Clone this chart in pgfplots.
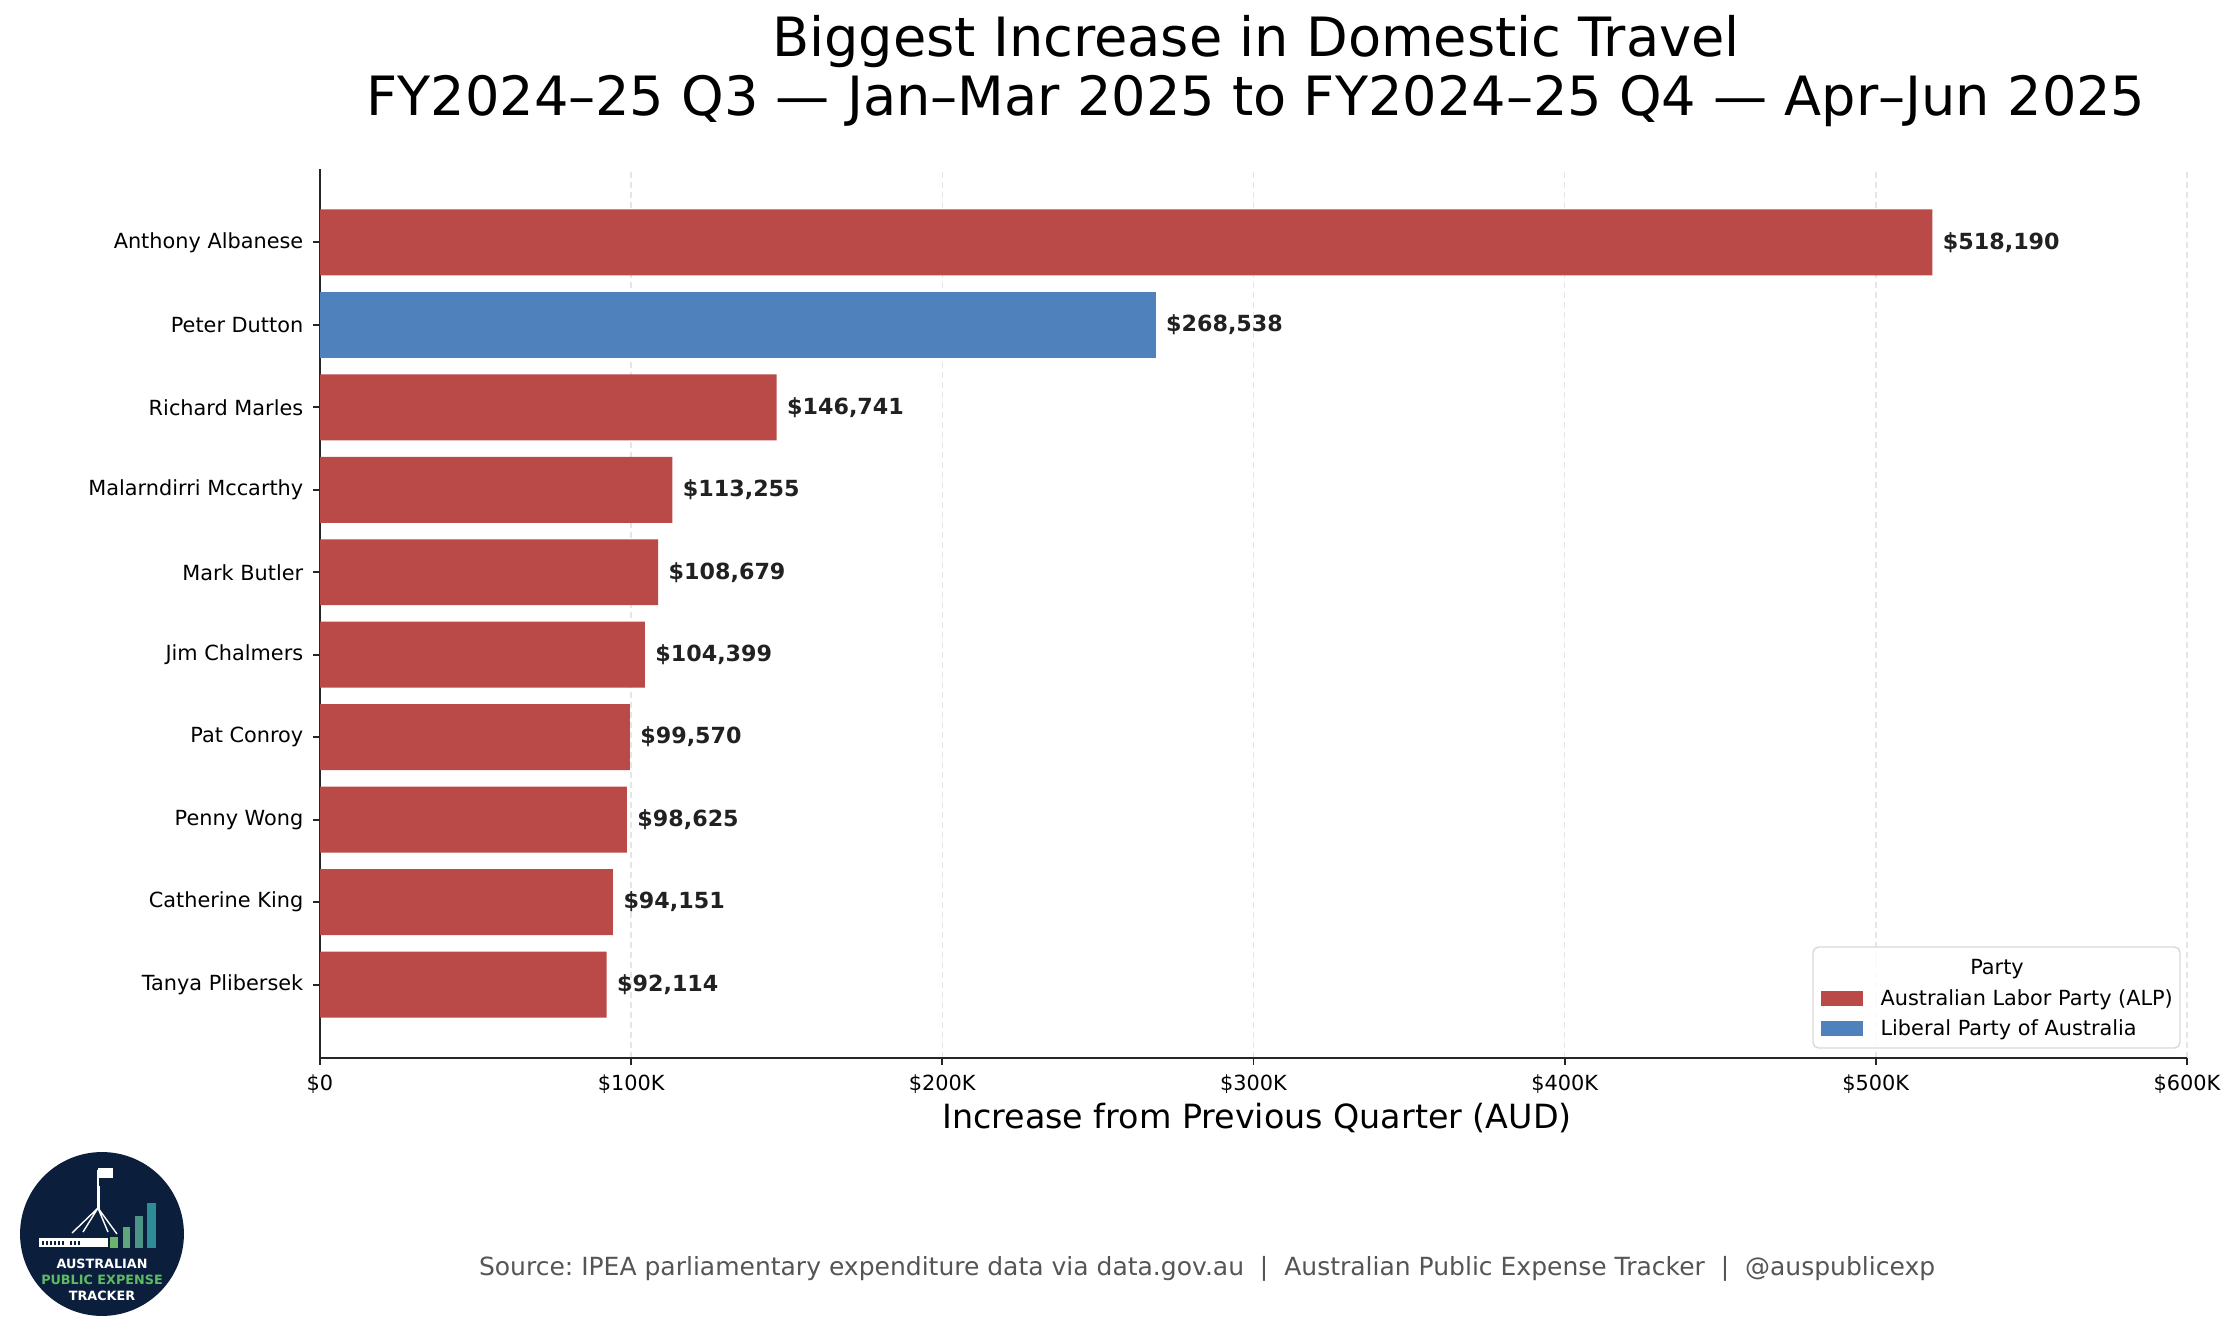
\documentclass[border=0pt]{standalone}
\usepackage{pgfplots}
\pgfplotsset{compat=1.18}
\usepackage{fontspec}
\setmainfont{DejaVu Sans}
\frenchspacing
\definecolor{alp}{HTML}{B94A48}
\definecolor{lib}{HTML}{4F81BD}
\definecolor{spine}{HTML}{262626}
\definecolor{navy}{HTML}{0B1F3D}
\definecolor{srcgray}{HTML}{555555}
\definecolor{lg1}{HTML}{6CB36C}
\definecolor{lg2}{HTML}{5FA77A}
\definecolor{lg3}{HTML}{4C9485}
\definecolor{lg4}{HTML}{2E8C96}
\definecolor{logogreen}{HTML}{5DBB63}
\begin{document}
\begin{tikzpicture}[x=1pt,y=1pt]
\useasboundingbox (0,0) rectangle (804.6,481.32);
\begin{axis}[
  at={(115.2pt,100.44pt)}, anchor=south west,
  scale only axis, width=672.1pt, height=320.04pt,
  xmin=0, xmax=600000, ymin=-0.89, ymax=9.89,
  axis lines*=left,
  axis line style={-, draw=spine, line width=0.7pt},
  tick style={draw=spine, line width=0.7pt},
  major tick length=2.5pt, tick align=outside,
  xtick={0,100000,200000,300000,400000,500000,600000},
  scaled x ticks=false,
  xticklabels={\$0,\$100K,\$200K,\$300K,\$400K,\$500K,\$600K},
  ytick={0,1,2,3,4,5,6,7,8,9},
  yticklabels={Tanya Plibersek,Catherine King,Penny Wong,Pat Conroy,Jim Chalmers,Mark Butler,Malarndirri Mccarthy,Richard Marles,Peter Dutton,Anthony Albanese},
  ticklabel style={font=\fontsize{7.5}{9}\selectfont},
  xmajorgrids,
  grid style={gray!20, dash pattern=on 2.2pt off 1.4pt, line width=0.5pt},
  point meta=x,
  nodes near coords={\$\pgfmathprintnumber{\pgfplotspointmeta}},
  nodes near coords style={font=\fontsize{8}{9}\selectfont\bfseries, anchor=west, inner sep=0pt, xshift=3.6pt, text=black!87},
  /pgf/number format/.cd, fixed, precision=0, 1000 sep={,}, assume math mode=true,
]
\addplot[xbar, bar width=0.8, bar shift=0pt, fill=alp, draw=none]
  coordinates {(518190,9) (146741,7) (113255,6) (108679,5) (104399,4) (99570,3) (98625,2) (94151,1) (92114,0)};
\addplot[xbar, bar width=0.8, bar shift=0pt, fill=lib, draw=none]
  coordinates {(268538,8)};
\end{axis}
\begin{scope}[shift={(0pt,481.32pt)}, x=0.36pt, y=-0.36pt]
  % titles
  \node[anchor=base, inner sep=0pt, font=\fontsize{19.5}{23}\selectfont] at (1256,57) {Biggest Increase in Domestic Travel};
  \node[anchor=base, inner sep=0pt, font=\fontsize{19.5}{23}\selectfont] at (1256,116) {FY2024–25 Q3 — Jan–Mar 2025 to FY2024–25 Q4 — Apr–Jun 2025};
  % x label
  \node[anchor=base, inner sep=0pt, font=\fontsize{12}{14}\selectfont] at (1257,1129) {Increase from Previous Quarter (AUD)};
  % source
  \node[anchor=base, inner sep=0pt, text=srcgray, font=\fontsize{9}{10}\selectfont] at (1207,1275) {Source: IPEA parliamentary expenditure data via data.gov.au\ \ |\ \ Australian Public Expense Tracker\ \ |\ \ @auspublicexp};
  % legend
  \draw[rounded corners=2pt, draw=gray!30, fill=white, fill opacity=0.85, line width=0.5pt] (1813,947) rectangle (2180,1048);
  \node[anchor=base, inner sep=0pt, font=\fontsize{7.5}{9}\selectfont] at (1997,975) {Party};
  \fill[alp] (1821,991) rectangle (1863,1006);
  \node[anchor=base west, inner sep=0pt, font=\fontsize{7.5}{9}\selectfont] at (1880,1006) {Australian Labor Party (ALP)};
  \fill[lib] (1821,1021) rectangle (1863,1036);
  \node[anchor=base west, inner sep=0pt, font=\fontsize{7.5}{9}\selectfont] at (1880,1036) {Liberal Party of Australia};
  % logo
  \fill[navy] (102,1234) circle[radius=29.5pt];
  \fill[lg1] (110,1237) rectangle (118,1248);
  \fill[lg2] (123,1227) rectangle (130,1248);
  \fill[lg3] (135,1216) rectangle (143,1248);
  \fill[lg4] (147,1203) rectangle (156,1248);
  \fill[white] (39,1238) rectangle (108,1247);
  \foreach \xx in {42,46,50,54,58,62,70,74,78} {\fill[navy] (\xx,1241) rectangle ++(2,4);}
  \fill[white] (96.5,1186) rectangle (99.5,1210);
  \draw[white, line width=0.5pt] (98,1170) -- (98,1186);
  \fill[white] (98,1168) rectangle (113,1178);
  \draw[white, line width=0.5pt] (98,1208) -- (72,1233) (98,1208) -- (83,1232) (98,1208) -- (108,1232) (98,1208) -- (117,1234);
  \node[anchor=base, inner sep=0pt, text=white, font=\fontsize{4.6}{5}\selectfont\bfseries] at (102,1268) {AUSTRALIAN};
  \node[anchor=base, inner sep=0pt, text=logogreen, font=\fontsize{4.6}{5}\selectfont\bfseries] at (102,1284) {PUBLIC EXPENSE};
  \node[anchor=base, inner sep=0pt, text=white, font=\fontsize{4.6}{5}\selectfont\bfseries] at (102,1300) {TRACKER};
\end{scope}
\end{tikzpicture}
\end{document}
